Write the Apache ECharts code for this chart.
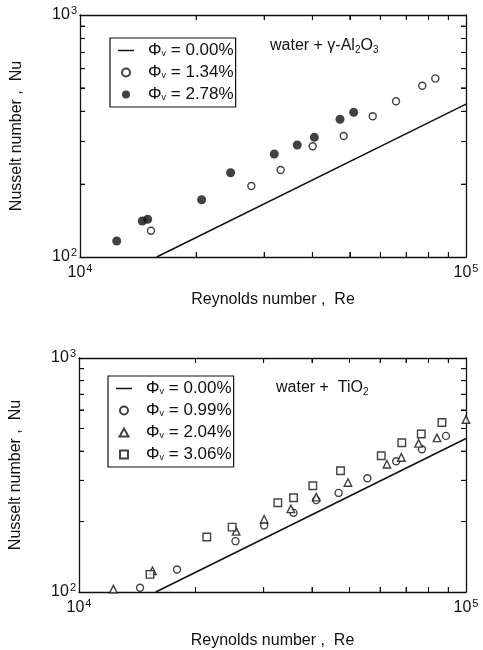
<!DOCTYPE html>
<html><head><meta charset="utf-8">
<script src="https://cdn.jsdelivr.net/npm/echarts@6/dist/echarts.min.js"></script>
<style>html,body{margin:0;padding:0;background:#fff}#c{width:483px;height:650px}</style>
</head><body><div id="c"></div>
<script>
// ---- Top panel: water + γ-Al2O3 ----
const alRe0 = [15800, 100000];
const alNu0 = [100, 428];
const alRe134 = [15270, 27790, 33110, 40070, 48210, 57330, 65880, 77050, 83270];
const alNu134 = [128.4, 196.5, 228.9, 286.7, 316.2, 381.5, 440, 510, 547];
const alRe278 = [12450, 14500, 14970, 20660, 24560, 31860, 36540, 40470, 47160, 51170];
const alNu278 = [116.4, 140.8, 143.2, 172.5, 223, 266.5, 290.2, 312.3, 370.7, 396];
// ---- Bottom panel: water + TiO2 ----
const tiRe0 = [15790, 100000];
const tiNu0 = [100, 453];
const tiRe099 = [14380, 17920, 25370, 30090, 35840, 41020, 46860, 55610, 66000, 76940, 88770];
const tiNu099 = [104.3, 124.7, 164.9, 192.3, 217.9, 247, 265.1, 306.3, 361.9, 407.4, 464.7];
const tiRe204 = [12270, 15480, 25470, 30090, 35270, 41020, 49540, 62470, 68050, 75440, 84140, 100000];
const tiNu204 = [102.9, 123.2, 181.6, 204.5, 226.6, 254.3, 293.8, 351.6, 375.9, 431.5, 455.7, 545.6];
const tiRe306 = [15260, 21390, 24870, 32640, 35840, 40200, 47400, 60390, 68250, 76630, 86660];
const tiNu306 = [118.9, 171.9, 189.3, 240.8, 252.7, 284.5, 329.7, 382, 434.3, 473.7, 530];

// axis ranges and minor tick values
const xRange = [10000, 100000];
const yRange = [100, 1000];
const xMinorTicks = [20000, 30000, 40000, 50000, 60000, 70000, 80000, 90000];
const yMinorTicks = [200, 300, 400, 500, 600, 700, 800, 900];
const legendLabels = {
  a0: '0.00%', a1: '1.34%', a2: '2.78%',
  b0: '0.00%', b1: '0.99%', b2: '2.04%', b3: '3.06%'
};
const xName = 'Reynolds number ,  Re';
const yName = 'Nusselt number ,  Nu';

function zip(a, b) { return a.map((v, i) => [v, b[i]]); }
const FONT = '"Liberation Sans", Arial, sans-serif';
const BLACK = '#111';

function tickLabel(v) {
  const e = Math.round(Math.log10(v));
  return '{b|10}{s|' + e + '}';
}
const labelRich = {
  b: { fontSize: 16, fontFamily: FONT, color: BLACK },
  s: { fontSize: 11, fontFamily: FONT, color: BLACK, padding: [0, 0, 9, 1] }
};

function axesFor(gi, xGap) {
  const common = {
    type: 'log', logBase: 10, gridIndex: gi,
    axisLine: { show: true, lineStyle: { color: BLACK, width: 1.3 } },
    splitLine: { show: false }
  };
  const xTick = { show: true, inside: true, length: 5, customValues: xMinorTicks,
    lineStyle: { color: BLACK, width: 1 } };
  const yTick = { show: true, inside: true, length: 5, customValues: yMinorTicks,
    lineStyle: { color: BLACK, width: 1 } };
  const xs = [
    Object.assign({}, common, {
      min: xRange[0], max: xRange[1], position: 'bottom', axisTick: xTick,
      axisLabel: { show: true, margin: 6, formatter: tickLabel, rich: labelRich },
      name: xName, nameLocation: 'middle', nameGap: xGap,
      nameTextStyle: { fontSize: 16, fontFamily: FONT, color: BLACK }
    }),
    Object.assign({}, common, {
      min: xRange[0], max: xRange[1], position: 'top', axisTick: xTick, axisLabel: { show: false }
    })
  ];
  const ys = [
    Object.assign({}, common, {
      min: yRange[0], max: yRange[1], position: 'left', axisTick: yTick,
      axisLabel: { show: true, margin: 3, formatter: tickLabel, rich: labelRich },
      name: yName, nameLocation: 'middle', nameGap: 55,
      nameTextStyle: { fontSize: 16, fontFamily: FONT, color: BLACK }
    }),
    Object.assign({}, common, {
      min: yRange[0], max: yRange[1], position: 'right', axisTick: yTick, axisLabel: { show: false }
    })
  ];
  return { xs, ys };
}
const A0 = axesFor(0, 35), A1 = axesFor(1, 41);

function lineSeries(name, xi, yi, data) {
  return { name, type: 'line', xAxisIndex: xi, yAxisIndex: yi, data, symbol: 'none',
    lineStyle: { color: BLACK, width: 1.5 }, itemStyle: { color: BLACK }, silent: true, z: 3 };
}
function scat(name, xi, yi, data, symbol, size, filled) {
  return { name, type: 'scatter', xAxisIndex: xi, yAxisIndex: yi, data, symbol, symbolSize: size,
    clip: false, z: 4,
    itemStyle: filled ? { color: BLACK, borderColor: BLACK, borderWidth: 0 }
                      : { color: '#fff', borderColor: BLACK, borderWidth: 1.4 } };
}

const legendBase = {
  orient: 'vertical', itemWidth: 16, itemHeight: 8, itemGap: 5,
  borderColor: BLACK, borderWidth: 1.2, backgroundColor: '#fff',
  padding: [4, 2, 4, 8], selectedMode: false,
  formatter: n => '{p|Φ}{v|v}{t| = ' + legendLabels[n] + '}',
  textStyle: {
    color: BLACK, fontFamily: FONT,
    rich: {
      p: { fontSize: 17, fontFamily: FONT, color: BLACK, padding: [0, 0, 0, 9], lineHeight: 18 },
      v: { fontSize: 9, fontFamily: FONT, color: BLACK, padding: [6, 0, 0, 0], lineHeight: 18 },
      t: { fontSize: 17, fontFamily: FONT, color: BLACK, lineHeight: 18 }
    }
  }
};
const LINE_ICON = 'path://M0,0H16V1.5H0Z';
const TRI_ICON = 'path://M5,0L10,9L0,9Z';
const SQ_ICON = 'path://M0,0H10V10H0Z';

const textGraphics = [
  { type: 'text', left: 270, top: 37, z: 10, style: {
      text: '{m|water + γ-Al}{s|2}{m|O}{s|3}', fill: BLACK,
      rich: { m: { fontSize: 16, fontFamily: FONT, fill: BLACK, lineHeight: 20 },
              s: { fontSize: 10, fontFamily: FONT, fill: BLACK, padding: [8, 0, 0, 0], lineHeight: 20 } } } },
  { type: 'text', left: 276, top: 379, z: 10, style: {
      text: '{m|water +  TiO}{s|2}', fill: BLACK,
      rich: { m: { fontSize: 16, fontFamily: FONT, fill: BLACK, lineHeight: 20 },
              s: { fontSize: 10, fontFamily: FONT, fill: BLACK, padding: [8, 0, 0, 0], lineHeight: 20 } } } }
];

const option = {
  backgroundColor: '#fff',
  animation: false,
  grid: [
    { left: 80, top: 15, width: 386, height: 242 },
    { left: 79, top: 358, width: 387, height: 239 }
  ],
  xAxis: [A0.xs[0], A0.xs[1], A1.xs[0], A1.xs[1]],
  yAxis: [A0.ys[0], A0.ys[1], A1.ys[0], A1.ys[1]],
  legend: [
    Object.assign({}, legendBase, { left: 110, top: 38, data: [
      { name: 'a0', icon: LINE_ICON }, { name: 'a1', icon: 'circle' }, { name: 'a2', icon: 'circle' }] }),
    Object.assign({}, legendBase, { left: 108, top: 376, data: [
      { name: 'b0', icon: LINE_ICON }, { name: 'b1', icon: 'circle' },
      { name: 'b2', icon: TRI_ICON }, { name: 'b3', icon: SQ_ICON }] })
  ],
  graphic: textGraphics,
  series: [
    lineSeries('a0', 0, 0, zip(alRe0, alNu0)),
    scat('a1', 0, 0, zip(alRe134, alNu134), 'circle', 7, false),
    scat('a2', 0, 0, zip(alRe278, alNu278), 'circle', 9, true),
    lineSeries('b0', 2, 2, zip(tiRe0, tiNu0)),
    scat('b1', 2, 2, zip(tiRe099, tiNu099), 'circle', 7, false),
    scat('b2', 2, 2, zip(tiRe204, tiNu204), 'triangle', 7.5, false),
    scat('b3', 2, 2, zip(tiRe306, tiNu306), 'rect', 7.5, false)
  ]
};
const chart = echarts.init(document.getElementById('c'), null, { renderer: 'canvas' });
chart.setOption(option);

// backup minor ticks, positioned through the grid's own scales (skipped if unavailable)
const TL = 5;
const tickGraphics = [];
function seg(x1, y1, x2, y2) {
  if (![x1, y1, x2, y2].every(Number.isFinite)) return;
  tickGraphics.push({ type: 'line', z: 10, silent: true,
    shape: { x1, y1, x2, y2 }, style: { stroke: BLACK, lineWidth: 1 } });
}
try {
  [0, 1].forEach(gi => {
    const finder = { gridIndex: gi };
    xMinorTicks.forEach(v => {
      const b = chart.convertToPixel(finder, [v, yRange[0]]);
      const t = chart.convertToPixel(finder, [v, yRange[1]]);
      if (!b || !t) return;
      seg(b[0], b[1], b[0], b[1] - TL);
      seg(t[0], t[1], t[0], t[1] + TL);
    });
    yMinorTicks.forEach(v => {
      const l = chart.convertToPixel(finder, [xRange[0], v]);
      const r = chart.convertToPixel(finder, [xRange[1], v]);
      if (!l || !r) return;
      seg(l[0], l[1], l[0] + TL, l[1]);
      seg(r[0], r[1], r[0] - TL, r[1]);
    });
  });
  if (tickGraphics.length) chart.setOption({ graphic: textGraphics.concat(tickGraphics) });
} catch (e) { /* keep chart as is */ }
</script></body></html>
